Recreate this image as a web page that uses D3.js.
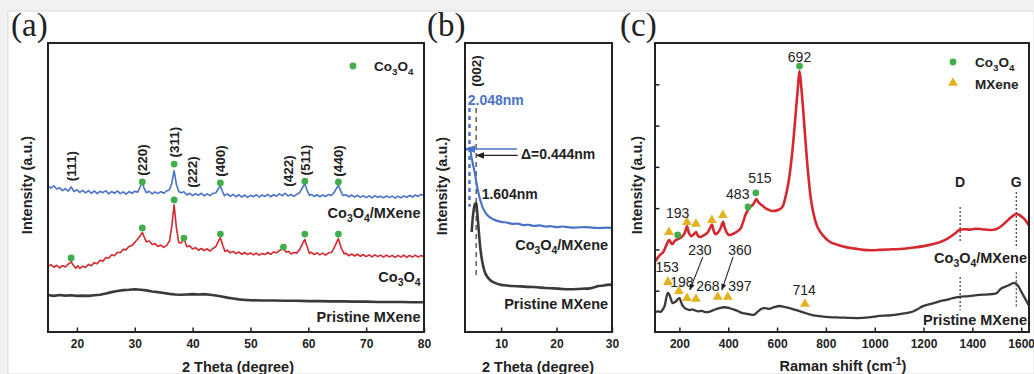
<!DOCTYPE html>
<html><head><meta charset="utf-8">
<script src="https://cdn.jsdelivr.net/npm/d3@7"></script>
<style>
html,body{margin:0;padding:0;background:#f1f1f1;}
svg{display:block;}
text{font-family:"Liberation Sans",Arial,sans-serif;fill:#222;}
</style></head><body>
<svg id="c" width="1034" height="374"></svg>
<script>
// ---------------- DATA ----------------
// (a) XRD patterns [2theta, intensity a.u.]
const xrdComposite = [[15,50.5],[15.5,49.8],[16,50.6],[16.5,49.5],[17,49.9],[17.5,48.9],[18,49.6],[18.5,48.7],[19,50.2],[19.5,48.6],[20,49.2],[20.5,48.3],[21,49.0],[21.5,48.1],[22,48.9],[22.5,48.0],[23,48.8],[23.5,47.9],[24,48.7],[24.5,48.2],[25,48.9],[25.5,47.8],[26,48.6],[26.5,48.0],[27,48.8],[27.5,47.9],[28,48.5],[28.5,47.7],[29,48.6],[29.5,48.0],[30,48.7],[30.5,48.4],[31,50.5],[31.3,52.0],[31.6,49.8],[32,48.2],[32.5,48.7],[33,47.8],[33.5,48.5],[34,47.9],[34.5,48.6],[35,48.0],[35.5,48.8],[36,49.2],[36.4,51.5],[36.8,55.8],[37.2,51.0],[37.6,48.6],[38,48.2],[38.5,48.5],[39,47.4],[39.5,48.0],[40,47.2],[40.5,47.9],[41,47.3],[41.5,48.0],[42,47.1],[42.5,47.8],[43,47.2],[43.5,48.0],[44,48.1],[44.5,49.8],[44.8,50.4],[45.2,48.5],[45.5,47.2],[46,47.8],[46.5,46.9],[47,47.6],[47.5,46.8],[48,47.5],[48.5,46.7],[49,47.4],[49.5,46.6],[50,47.3],[50.5,46.8],[51,47.5],[51.5,46.7],[52,47.4],[52.5,46.9],[53,47.6],[53.5,46.8],[54,47.5],[54.5,47.0],[55,47.8],[55.5,47.2],[56,48.0],[56.5,47.1],[57,47.6],[57.5,46.9],[58,47.6],[58.5,48.2],[59,50.0],[59.4,51.3],[59.8,49.0],[60.2,47.3],[60.5,47.6],[61,46.9],[61.5,47.5],[62,46.8],[62.5,47.4],[63,46.9],[63.5,47.6],[64,47.2],[64.5,48.4],[65.2,50.8],[65.7,48.3],[66,47.2],[66.5,47.5],[67,46.8],[67.5,47.4],[68,46.7],[68.5,47.3],[69,46.6],[69.5,47.2],[70,46.5],[70.5,47.1],[71,46.4],[71.5,47.2],[72,46.6],[72.5,47.0],[73,46.4],[73.5,47.1],[74,46.5],[74.5,47.0],[75,46.3],[75.5,47.0],[76,46.4],[76.5,47.1],[77,46.6],[77.5,47.3],[78,46.7],[78.5,47.4],[79,46.9],[79.5,47.6],[80,47.2]];
const xrdCo3O4 = [[15,22.6],[15.5,23.3],[16,22.4],[16.5,23.1],[17,22.2],[17.5,23.0],[18,22.5],[18.5,23.5],[19,24.3],[19.4,23.0],[19.8,22.1],[20.2,22.9],[20.5,22.0],[21,22.8],[21.5,22.3],[22,23.4],[22.5,22.9],[23,24.0],[23.5,23.6],[24,24.8],[24.5,24.5],[25,25.8],[25.5,25.5],[26,26.7],[26.5,26.4],[27,27.6],[27.5,27.4],[28,28.6],[28.5,28.5],[29,29.6],[29.5,29.9],[30,31.0],[30.5,32.2],[31,33.5],[31.3,34.5],[31.6,33.0],[32,31.2],[32.5,31.5],[33,30.3],[33.5,30.6],[34,29.6],[34.5,30.1],[35,29.3],[35.5,29.9],[36,31.5],[36.4,36.5],[36.8,44.0],[37.2,36.0],[37.6,31.0],[38,30.8],[38.5,32.3],[39,29.5],[39.5,29.8],[40,28.7],[40.5,29.2],[41,28.3],[41.5,28.9],[42,28.2],[42.5,28.8],[43,28.0],[43.5,28.9],[44,29.5],[44.5,31.6],[44.8,32.6],[45.2,30.0],[45.6,27.9],[46,28.3],[46.5,27.4],[47,27.9],[47.5,27.1],[48,27.7],[48.5,26.9],[49,27.5],[49.5,26.8],[50,27.4],[50.5,26.7],[51,27.3],[51.5,26.6],[52,27.2],[52.5,26.8],[53,27.5],[53.5,26.9],[54,27.7],[54.5,27.4],[55,28.2],[55.7,28.8],[56.2,27.6],[56.6,27.9],[57,27.0],[57.5,27.5],[58,27.3],[58.5,28.5],[59,30.6],[59.4,32.0],[59.8,29.5],[60.2,27.2],[60.5,27.6],[61,26.8],[61.5,27.4],[62,26.7],[62.5,27.3],[63,26.6],[63.5,27.4],[64,27.5],[64.5,29.3],[65.2,32.3],[65.7,29.0],[66.2,27.0],[66.5,27.3],[67,26.4],[67.5,27.0],[68,26.3],[68.5,26.9],[69,26.2],[69.5,26.8],[70,26.1],[70.5,26.7],[71,26.0],[71.5,26.7],[72,26.1],[72.5,26.6],[73,25.9],[73.5,26.6],[74,26.0],[74.5,26.5],[75,25.8],[75.5,26.5],[76,25.9],[76.5,26.6],[77,25.8],[77.5,26.5],[78,25.9],[78.5,26.6],[79,25.9],[79.5,26.5],[80,26.0]];
const xrdMXene = [[15,12.8],[16,12.5],[17,12.8],[18,12.6],[19,12.7],[20,12.5],[21,12.6],[22,12.5],[23,12.7],[24,12.9],[25,13.3],[26,13.8],[27,14.2],[28,14.5],[29,14.6],[30,14.8],[31,14.6],[32,14.4],[33,14.0],[34,13.8],[35,13.5],[36,13.2],[37,13.0],[38,12.9],[39,13.0],[40,13.1],[41,13.0],[42,13.1],[43,12.9],[44,12.6],[45,12.3],[46,11.9],[47,11.6],[48,11.3],[49,11.1],[50,11.0],[52,10.9],[54,10.9],[56,10.8],[58,10.8],[60,10.7],[62,10.7],[64,10.6],[66,10.6],[68,10.5],[70,10.5],[72,10.4],[74,10.4],[76,10.4],[78,10.3],[80,10.3]];
const hklLabels = ["(111)","(220)","(311)","(222)","(400)","(422)","(511)","(440)"];
const hklPos    = [19.0, 31.3, 36.8, 39.9, 44.8, 56.6, 59.4, 65.2];
const hklLevel  = [57.4, 59.5, 65.7, 55.4, 59.2, 55.7, 59.5, 59.2];
const co3o4DotsCompX = [31.3, 36.8, 44.8, 59.4, 65.2];
const co3o4DotsCompY = [51.9, 58.1, 51.6, 52.2, 51.9];
const co3o4DotsX = [19.0, 31.3, 36.8, 38.5, 44.8, 55.7, 59.4, 65.2];
const co3o4DotsY = [25.6, 36.0, 45.7, 32.5, 33.9, 29.4, 33.9, 33.9];
const ticksA = [20,30,40,50,60,70,80];

// (b) low-angle XRD
const lowComposite = [[3.5,63.0],[4.0,63.3],[4.3,63.7],[4.7,60.2],[5.0,57.4],[5.3,54.7],[5.6,51.2],[5.9,48.4],[6.3,45.3],[6.8,42.6],[7.5,40.5],[8.5,39.1],[10,38.1],[11,37.9],[12,37.4],[13,37.5],[14,37.0],[15,37.1],[16,36.7],[17,36.9],[18,36.5],[19,36.6],[20,36.3],[21,36.5],[22,36.3],[23,36.1],[24,36.2],[25,36.3],[26,36.2],[27,36.0],[28,36.0],[29,36.1],[30,36.0]];
const lowMXene = [[4.7,34.6],[5.0,41.2],[5.3,44.3],[5.5,44.6],[5.7,41.5],[6.0,34.6],[6.3,28.4],[6.7,23.5],[7.2,20.1],[8.0,18.0],[9.0,16.9],[10,16.3],[11,16.1],[12,15.9],[13.5,15.8],[15,15.6],[16.5,15.5],[18,15.2],[19.5,15.1],[21,14.9],[22.5,14.8],[24,14.9],[25,15.0],[26,15.1],[27,15.6],[27.5,15.9],[28.5,16.1],[29,16.3],[30,16.4]];
const dSpacingComp = 4.31;   // 2.048 nm
const dSpacingMX = 5.51;     // 1.604 nm
const ticksB = [10,20,30];

// (c) Raman spectra [cm-1, intensity]
const ramanComposite = [[100,1.70],[118,1.85],[134,1.94],[146,2.10],[158,2.23],[166,2.15],[172,2.13],[180,2.20],[187,2.23],[200,2.27],[212,2.32],[222,2.40],[231,2.56],[240,2.38],[249,2.32],[258,2.36],[268,2.42],[276,2.33],[284,2.30],[300,2.34],[314,2.40],[324,2.50],[333,2.60],[341,2.44],[348,2.37],[356,2.40],[363,2.45],[371,2.55],[379,2.67],[386,2.52],[393,2.42],[400,2.36],[408,2.35],[420,2.38],[433,2.42],[442,2.46],[450,2.50],[460,2.65],[470,2.83],[480,2.95],[490,3.03],[501,3.08],[508,3.15],[515,3.22],[523,3.15],[531,3.10],[542,3.05],[552,3.00],[566,2.96],[580,2.93],[596,2.94],[610,2.97],[622,3.03],[635,3.28],[650,3.75],[663,4.4],[675,5.2],[685,5.9],[692,6.32],[699,5.95],[708,5.3],[718,4.5],[728,3.8],[738,3.25],[750,2.85],[765,2.55],[785,2.36],[817,2.18],[850,2.11],[887,2.05],[920,2.02],[952,1.99],[990,1.98],[1022,1.99],[1060,2.0],[1103,2.01],[1150,2.04],[1201,2.08],[1240,2.13],[1268,2.18],[1300,2.27],[1330,2.39],[1346,2.47],[1370,2.49],[1390,2.48],[1411,2.50],[1440,2.49],[1470,2.47],[1493,2.48],[1515,2.55],[1535,2.65],[1555,2.76],[1570,2.83],[1579,2.86],[1590,2.84],[1605,2.78],[1617,2.71],[1632,2.58]];
const ramanMXene = [[100,0.48],[112,0.50],[124,0.49],[132,0.55],[139,0.62],[146,0.82],[153,0.95],[159,0.90],[165,0.80],[172,0.70],[180,0.72],[187,0.75],[194,0.80],[200,0.82],[206,0.74],[212,0.65],[222,0.58],[232,0.55],[242,0.53],[252,0.55],[261,0.53],[275,0.50],[291,0.51],[306,0.48],[322,0.49],[340,0.53],[364,0.58],[384,0.60],[404,0.58],[420,0.55],[439,0.51],[452,0.47],[466,0.45],[486,0.43],[507,0.42],[522,0.50],[539,0.57],[553,0.58],[567,0.56],[588,0.60],[609,0.63],[630,0.61],[655,0.57],[679,0.53],[710,0.47],[744,0.41],[780,0.38],[814,0.36],[860,0.35],[900,0.34],[950,0.34],[985,0.36],[1019,0.39],[1055,0.40],[1089,0.42],[1120,0.45],[1154,0.49],[1175,0.55],[1195,0.62],[1230,0.68],[1265,0.74],[1294,0.78],[1320,0.82],[1347,0.85],[1385,0.87],[1429,0.90],[1465,0.91],[1499,0.94],[1512,1.02],[1523,1.07],[1545,1.12],[1572,1.19],[1587,1.12],[1600,0.98],[1615,0.82],[1632,0.64]];
const ramanCoDots = [[193,2.35],[481,3.03],[513,3.37],[692,6.44]];
const ramanMxTriComp = [[157,2.42],[231,2.66],[268,2.62],[333,2.71],[378,2.83]];
const ramanMxTri = [[153,1.21],[198,0.99],[231,0.82],[268,0.80],[357,0.85],[398,0.85],[714,0.68]];
const bandD = 1350, bandG = 1580;
const ticksC = [200,400,600,800,1000,1200,1400,1600];

// ---------------- DRAW ----------------
const svg = d3.select("#c");
svg.append("rect").attr("x",8).attr("y",11).attr("width",1026).attr("height",363)
   .attr("fill","#fff").attr("stroke","#dcdcdc");

const C = {blue:"#4a73c8", red:"#d4292f", black:"#3a3a3a", green:"#3fae4b", gold:"#e2b21f", frame:"#222"};
const defs = svg.append("defs");
function marker(id,color){
  defs.append("marker").attr("id",id).attr("viewBox","0 0 10 10").attr("refX",9).attr("refY",5)
   .attr("markerWidth",6).attr("markerHeight",6).attr("orient","auto")
   .append("path").attr("d","M0,1L10,5L0,9z").attr("fill",color);
}
marker("ab",C.blue); marker("ak","#222");

function rich(t, str, fs){
  const parts = str.split(/(_.|\^\{[^}]*\})/).filter(p=>p!=="");
  let shift=0;
  parts.forEach(p=>{
    let txt=p, s=0, small=false;
    if(p[0]==="_"){txt=p.slice(1); s=0.28; small=true;}
    else if(p[0]==="^"){txt=p.slice(2,-1); s=-0.42; small=true;}
    const ts=t.append("tspan").text(txt);
    if(s!==shift){ ts.attr("dy",((s-shift)*fs).toFixed(2)); shift=s; }
    if(small) ts.attr("font-size",(fs*0.72).toFixed(1));
  });
}
function label(g,x,y,str,o={}){
  const fs=o.fs||14;
  const t=g.append("text").attr("x",x).attr("y",y+0.36*fs).attr("font-size",fs)
    .attr("font-weight",o.w||"bold").attr("text-anchor",o.a||"start");
  if(o.fill) t.style("fill",o.fill);
  if(o.rot){ t.attr("transform",`rotate(-90,${x},${y})`); }
  rich(t,str,fs);
  return t;
}
function frame(x0,x1,y0,y1){
  svg.append("rect").attr("x",x0).attr("y",y0).attr("width",x1-x0).attr("height",y1-y0)
    .attr("fill","none").attr("stroke",C.frame).attr("stroke-width",2);
}
function xAxis(x,y0,major,minor){
  const g=svg.append("g").attr("transform",`translate(0,${y0})`);
  g.call(d3.axisBottom(x).tickValues(minor).tickSize(-2.5).tickFormat(""));
  g.call(d3.axisBottom(x).tickValues(major).tickSize(-4.5).tickPadding(7).tickFormat(d3.format("d")));
  g.selectAll(".domain").remove();
  g.selectAll("line").attr("stroke",C.frame).attr("stroke-width",1.5);
  g.selectAll("text").attr("font-size",12).attr("font-weight","bold").attr("font-family","Liberation Sans, Arial, sans-serif").style("fill","#222");
  return g;
}
function panelTag(x,txt){
  svg.append("text").attr("x",x).attr("y",36).attr("font-size",33)
    .style("font-family","'Liberation Serif', 'Times New Roman', serif").text(txt);
}
function dots(g,pts,xs,ys){
  g.selectAll(null).data(pts).join("circle").attr("cx",d=>xs(d[0])).attr("cy",d=>ys(d[1]))
   .attr("r",3.4).attr("fill",C.green);
}
function tris(g,pts,xs,ys){
  g.selectAll(null).data(pts).join("path").attr("d",d3.symbol(d3.symbolTriangle,42))
   .attr("transform",d=>`translate(${xs(d[0])},${ys(d[1])})`).attr("fill",C.gold);
}

// ---- panel (a)
const xa=d3.scaleLinear([15,80],[48,424]);
const yI=d3.scaleLinear([0,100],[332,43]);
const ga=svg.append("g");
const lineA=d3.line().x(d=>xa(d[0])).y(d=>yI(d[1]));
ga.append("path").attr("d",lineA(xrdMXene)).attr("fill","none").attr("stroke",C.black).attr("stroke-width",2.6).attr("stroke-linejoin","round");
ga.append("path").attr("d",lineA(xrdCo3O4)).attr("fill","none").attr("stroke",C.red).attr("stroke-width",1.6).attr("stroke-linejoin","round");
ga.append("path").attr("d",lineA(xrdComposite)).attr("fill","none").attr("stroke",C.blue).attr("stroke-width",1.6).attr("stroke-linejoin","round");
dots(ga,d3.zip(co3o4DotsCompX,co3o4DotsCompY),xa,yI);
dots(ga,d3.zip(co3o4DotsX,co3o4DotsY),xa,yI);
hklLabels.forEach((h,i)=>label(ga,xa(hklPos[i]),yI(hklLevel[i]),h,{fs:13.5,a:"middle",rot:true}));
label(ga,xa(79.4),yI(41.2),"Co_3O_4/MXene",{fs:14.5,a:"end"});
label(ga,xa(79.4),yI(19.0),"Co_3O_4",{fs:14.5,a:"end"});
label(ga,xa(79.4),yI(5.2),"Pristine MXene",{fs:14.5,a:"end"});
ga.append("circle").attr("cx",353).attr("cy",66).attr("r",3.4).attr("fill",C.green);
label(ga,374,66,"Co_3O_4",{fs:13.5});
frame(48,424,43,332);
xAxis(xa,332,ticksA,d3.range(25,80,10));
label(svg,238,367,"2 Theta (degree)",{fs:14.5,a:"middle"});
label(svg,27,185,"Intensity (a.u.)",{fs:14.5,a:"middle",rot:true});
panelTag(11,"(a)");

// ---- panel (b)
const xb=d3.scaleLinear([3.5,30],[465,612]);
const gb=svg.append("g");
const lineB=d3.line().x(d=>xb(d[0])).y(d=>yI(d[1])).curve(d3.curveCatmullRom);
gb.append("line").attr("x1",xb(dSpacingMX)).attr("x2",xb(dSpacingMX)).attr("y1",yI(77.5)).attr("y2",yI(18.7))
  .attr("stroke","#444").attr("stroke-width",1.3).attr("stroke-dasharray","5,4");
gb.append("line").attr("x1",xb(dSpacingComp)).attr("x2",xb(dSpacingComp)).attr("y1",yI(77.5)).attr("y2",yI(43.3))
  .attr("stroke",C.blue).attr("stroke-width",2.4).attr("stroke-dasharray","4,4");
gb.append("path").attr("d",lineB(lowMXene)).attr("fill","none").attr("stroke",C.black).attr("stroke-width",2.6);
gb.append("path").attr("d",lineB(lowComposite)).attr("fill","none").attr("stroke",C.blue).attr("stroke-width",2.2);
gb.append("line").attr("x1",xb(12.9)).attr("x2",xb(3.75)).attr("y1",yI(63.3)).attr("y2",yI(63.3))
  .attr("stroke",C.blue).attr("stroke-width",1.6).attr("marker-end","url(#ab)");
gb.append("line").attr("x1",xb(13.0)).attr("x2",xb(5.6)).attr("y1",yI(61.1)).attr("y2",yI(61.1))
  .attr("stroke","#222").attr("stroke-width",1.4).attr("marker-end","url(#ak)");
label(gb,xb(5.51),yI(90.3),"(002)",{fs:13.5,a:"middle",rot:true});
label(gb,xb(4.0),yI(80.3),"2.048nm",{fs:14,fill:C.blue});
label(gb,xb(13.6),yI(61.6),"\u0394=0.444nm",{fs:14});
label(gb,xb(6.5),yI(47.8),"1.604nm",{fs:14});
label(gb,xb(29.3),yI(30.1),"Co_3O_4/MXene",{fs:14.5,a:"end"});
label(gb,xb(29.3),yI(9.7),"Pristine MXene",{fs:14.5,a:"end"});
frame(465,612,43,332);
xAxis(xb,332,ticksB,[5,15,25]);
label(svg,538,367,"2 Theta (degree)",{fs:14.5,a:"middle"});
label(svg,442,186,"Intensity (a.u.)",{fs:14.5,a:"middle",rot:true});
panelTag(427,"(b)");

// ---- panel (c)
const xc=d3.scaleLinear([100,1632],[655,1029]);
const yc=d3.scaleLinear([0,7],[332,43]);
const gc=svg.append("g");
const lineC=d3.line().x(d=>xc(d[0])).y(d=>yc(d[1])).curve(d3.curveCatmullRom);
[[bandD,3.03,2.18],[bandD,1.33,0.53],[bandG,3.39,2.03],[bandG,1.45,0.58]].forEach(s=>{
  gc.append("line").attr("x1",xc(s[0])).attr("x2",xc(s[0])).attr("y1",yc(s[1])).attr("y2",yc(s[2]))
   .attr("stroke","#555").attr("stroke-width",1.4).attr("stroke-dasharray","2,2");
});
gc.append("path").attr("d",lineC(ramanMXene)).attr("fill","none").attr("stroke",C.black).attr("stroke-width",2.3);
gc.append("path").attr("d",lineC(ramanComposite)).attr("fill","none").attr("stroke",C.red).attr("stroke-width",2.6);
dots(gc,ramanCoDots,xc,yc);
tris(gc,ramanMxTriComp,xc,yc);
tris(gc,ramanMxTri,xc,yc);
const num=(x,y,s)=>label(gc,xc(x),yc(y),s,{fs:14,w:"normal",a:"middle"});
num(692,6.66,"692"); num(530,3.73,"515"); num(439,3.34,"483"); num(193,2.88,"193");
num(150,1.58,"153"); num(210,1.20,"198"); num(284,1.99,"230"); num(317,1.11,"268");
num(448,1.99,"360"); num(448,1.11,"397"); num(711,1.02,"714");
[[296,1.82,243,1.02],[420,1.82,374,1.02]].forEach(a=>{
  gc.append("line").attr("x1",xc(a[0])).attr("y1",yc(a[1])).attr("x2",xc(a[2])).attr("y2",yc(a[3]))
   .attr("stroke","#222").attr("stroke-width",1.1).attr("marker-end","url(#ak)");
});
label(gc,xc(bandD),yc(3.63),"D",{fs:14,a:"middle"});
label(gc,xc(bandG),yc(3.63),"G",{fs:14,a:"middle"});
label(gc,1027,258,"Co_3O_4/MXene",{fs:14.5,a:"end"});
label(gc,1027,320,"Pristine MXene",{fs:14.5,a:"end"});
gc.append("circle").attr("cx",953).attr("cy",62).attr("r",3.4).attr("fill",C.green);
gc.append("path").attr("d",d3.symbol(d3.symbolTriangle,42)).attr("transform","translate(953,83)").attr("fill",C.gold);
label(gc,975,62,"Co_3O_4",{fs:13.5});
label(gc,975,84,"MXene",{fs:13.5});
frame(655,1029,43,332);
const ya2=svg.append("g").attr("transform","translate(655,0)");
ya2.call(d3.axisLeft(yc).tickValues(d3.range(0.5,7,1)).tickSize(-2.5).tickFormat(""));
ya2.call(d3.axisLeft(yc).tickValues([1,2,3,4,5,6]).tickSize(-4.5).tickFormat(""));
ya2.selectAll(".domain").remove();
ya2.selectAll("line").attr("stroke",C.frame).attr("stroke-width",1.5);
xAxis(xc,332,ticksC,d3.range(300,1632,200));
label(svg,843,366,"Raman shift (cm^{-1})",{fs:14.5,a:"middle"});
label(svg,637,185,"Intensity (a.u.)",{fs:14.5,a:"middle",rot:true});
panelTag(620,"(c)");
</script></body></html>
